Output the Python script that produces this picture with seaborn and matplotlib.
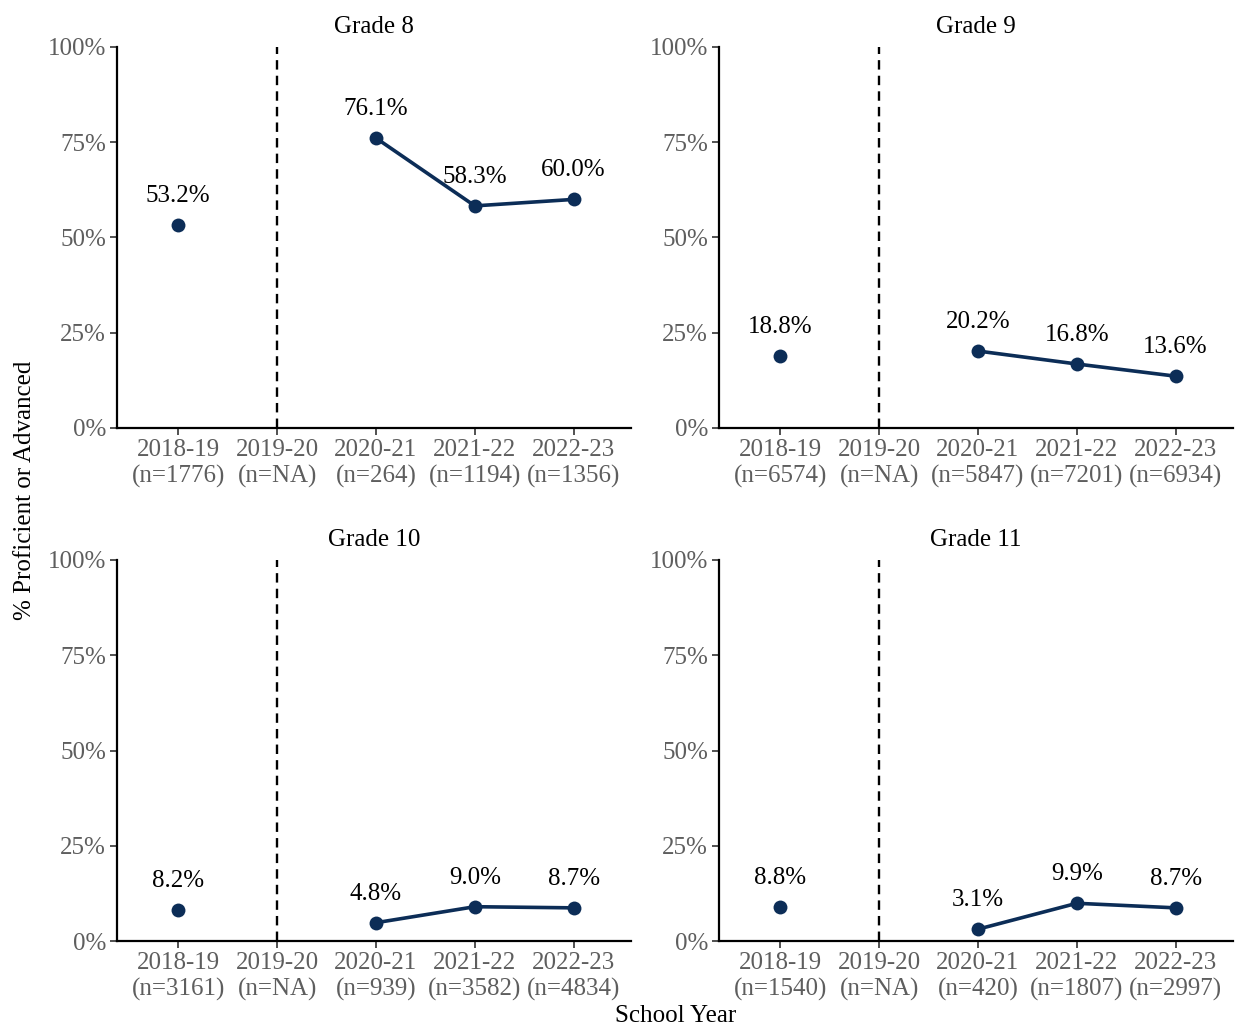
import matplotlib
matplotlib.use("Agg")
import matplotlib.pyplot as plt
import seaborn as sns
import pandas as pd
import numpy as np

years = ["2018-19", "2019-20", "2020-21", "2021-22", "2022-23"]
grades = ["Grade 8", "Grade 9", "Grade 10", "Grade 11"]

g8_pct = [53.2, np.nan, 76.1, 58.3, 60.0]
g9_pct = [18.8, np.nan, 20.2, 16.8, 13.6]
g10_pct = [8.2, np.nan, 4.8, 9.0, 8.7]
g11_pct = [8.8, np.nan, 3.1, 9.9, 8.7]

g8_n = ["1776", "NA", "264", "1194", "1356"]
g9_n = ["6574", "NA", "5847", "7201", "6934"]
g10_n = ["3161", "NA", "939", "3582", "4834"]
g11_n = ["1540", "NA", "420", "1807", "2997"]

pcts = [g8_pct, g9_pct, g10_pct, g11_pct]
ns = [g8_n, g9_n, g10_n, g11_n]

sns.set_theme(style="ticks")
plt.rcParams["font.family"] = ["Liberation Serif", "DejaVu Serif"]

color = "#0C2D57"
fig = plt.figure(figsize=(12.38, 10.25), dpi=100)

W = 1238.0
H = 1025.0
lefts = [117 / W, 719 / W]
bottoms = [1 - 428 / H, 1 - 941 / H]
width = (631 - 117) / W
height = (428 - 47) / H
FS = 18

for i, (grade, pct, nn) in enumerate(zip(grades, pcts, ns)):
    r, c = divmod(i, 2)
    ax = fig.add_axes([lefts[c], bottoms[r], width, height])
    df = pd.DataFrame({"x": np.arange(len(years)), "y": np.array(pct) / 100.0})
    line_df = df.iloc[2:]
    sns.lineplot(data=line_df, x="x", y="y", ax=ax, color=color, linewidth=2.6)
    sns.scatterplot(data=df.dropna(), x="x", y="y", ax=ax, color=color, s=100,
                    edgecolor=color, linewidth=0, zorder=3)
    ax.axvline(1, color="black", linestyle=(0, (4, 2.6)), linewidth=1.7, zorder=1)
    for xi, v in enumerate(pct):
        if not np.isnan(v):
            ax.annotate(f"{v:.1f}%", (xi, v / 100.0), xytext=(0, 21),
                        textcoords="offset points", ha="center", va="center",
                        fontsize=FS, color="black")
    ax.set_xlim(-0.62, 4.58)
    ax.set_ylim(0, 1)
    ax.set_xticks(range(len(years)))
    ax.set_xticklabels([f"{y}\n(n={n})" for y, n in zip(years, nn)],
                       fontsize=FS, color="#5E5E5E", linespacing=1.2)
    ax.set_yticks([0, 0.25, 0.5, 0.75, 1.0])
    ax.set_yticklabels(["0%", "25%", "50%", "75%", "100%"], fontsize=FS,
                       color="#5E5E5E")
    ax.tick_params(axis="both", length=5, width=1.2, color="#333333", pad=3)
    for s in ["top", "right"]:
        ax.spines[s].set_visible(False)
    for s in ["left", "bottom"]:
        ax.spines[s].set_linewidth(1.6)
        ax.spines[s].set_color("black")
    ax.set_xlabel("")
    ax.set_ylabel("")
    ax.set_title(grade, fontsize=FS, color="black", pad=10)

fig.text(676 / W, 1 - 1016 / H, "School Year", ha="center", va="center",
         fontsize=FS, color="black")
fig.text(25 / W, 1 - 490 / H, "% Proficient or Advanced", ha="center",
         va="center", rotation=90, fontsize=FS, color="black")

fig.savefig("out.png", dpi=100)
